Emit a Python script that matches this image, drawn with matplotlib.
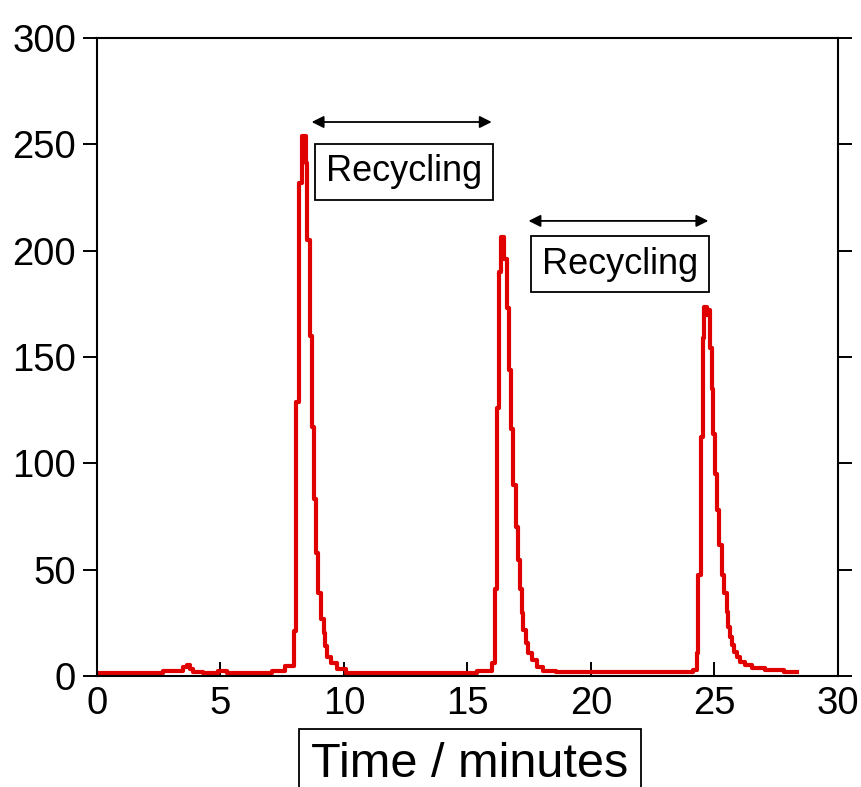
import matplotlib
matplotlib.use("Agg")
import matplotlib.pyplot as plt

plt.rcParams['font.family'] = ['Liberation Sans', 'DejaVu Sans']

# step edges (minutes) and signal level held until the next edge
time_min = [0.0, 2.67, 3.5, 3.63, 3.77, 3.9, 4.3, 4.9, 5.25, 7.07, 7.6,
            7.98, 8.05, 8.17, 8.28, 8.46, 8.5, 8.62, 8.7, 8.8, 8.87, 8.94,
            9.07, 9.2, 9.25, 9.3, 9.47, 9.7, 10.1, 15.37, 15.98,
            16.11, 16.18, 16.29, 16.36, 16.49, 16.58, 16.69, 16.77, 16.86,
            16.96, 17.06, 17.13, 17.2, 17.26, 17.37, 17.46, 17.6, 17.8,
            18.06, 18.6, 24.14, 24.28, 24.34, 24.45, 24.52, 24.59, 24.68,
            24.75, 24.82, 24.88, 24.95, 25.02, 25.11, 25.19, 25.29, 25.4,
            25.49, 25.56, 25.63, 25.7, 25.8, 25.9, 26.03, 26.23, 26.5,
            27.04, 27.8, 28.32]
signal = [1.4, 2.4, 4.4, 5.2, 3.3, 2.0, 1.4, 2.5, 1.4, 2.4, 4.5,
          21, 129, 232, 254, 241, 205, 160, 117, 83, 58, 39,
          27, 20, 14, 9, 6, 3.5, 1.6, 2.5, 6,
          41, 126, 190, 206.5, 196, 173, 144, 116, 90,
          70, 54.5, 41, 29.6, 21.6, 15.5, 10.8, 7.5, 4.4,
          2.5, 2.0, 2.8, 10.8, 47.5, 112.5, 159, 173.6, 169.7,
          172, 154, 135, 114, 95, 78, 61.6, 47.5, 39,
          30.2, 23.2, 18.5, 14.6, 11.4, 9.0, 6.7, 5.2, 3.6,
          2.8, 2.0, 2.0]

# recycling intervals: (start, end, arrow height), label position
recycle_spans = [(8.69, 15.98, 260.5), (17.47, 24.75, 214)]
recycle_labels = [(12.43, 237), (21.17, 193.7)]

x_ticks = [0, 5, 10, 15, 20, 25, 30]
y_ticks = [0, 50, 100, 150, 200, 250, 300]

fig = plt.figure(figsize=(8.62, 7.87), dpi=100)
ax = fig.add_axes([97/862, 1 - 676/787, (838 - 97)/862, (676 - 38)/787])

ax.plot(time_min, signal, drawstyle='steps-post', color='#e00000', lw=3)

for (x0, x1, yy), (lx, ly) in zip(recycle_spans, recycle_labels):
    ax.annotate('', xy=(x1, yy), xytext=(x0, yy),
                arrowprops=dict(arrowstyle='<|-|>', color='black', lw=1.3,
                                mutation_scale=18, shrinkA=0, shrinkB=0))
    ax.text(lx, ly, 'Recycling', fontsize=26, ha='center', va='center',
            bbox=dict(boxstyle='square,pad=0.3', fc='white', ec='black', lw=1.3))

ax.set_xlim(0, 30)
ax.set_ylim(0, 300)
ax.set_xticks(x_ticks)
ax.set_yticks(y_ticks)

for s in ax.spines.values():
    s.set_linewidth(1.5)

ax.tick_params(axis='x', direction='in', length=10, width=1.4, labelsize=27.5, pad=7)
ax.tick_params(axis='y', direction='out', length=10, width=1.4, labelsize=27.5, pad=5,
               right=True)

fig.text(470/862, 1 - 777/787, 'Time / minutes', fontsize=35, ha='center', va='baseline',
         bbox=dict(boxstyle='square,pad=0.26', fc='white', ec='black', lw=1.3))

fig.savefig('out.png', dpi=100)
